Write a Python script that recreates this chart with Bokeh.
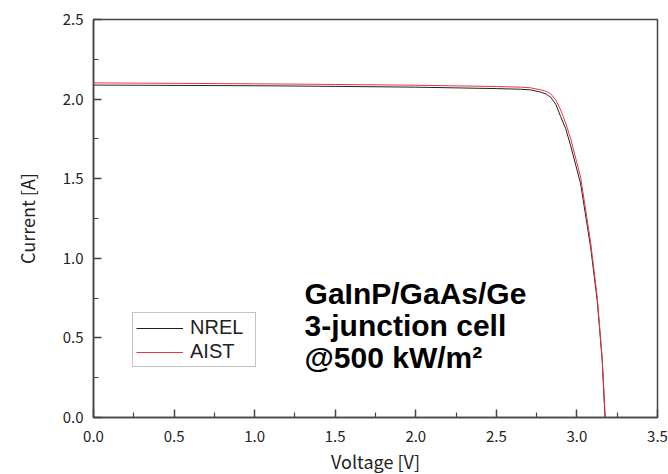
from bokeh.plotting import figure
from bokeh.models import Legend, LegendItem, Label, Range1d, FixedTicker, NumeralTickFormatter
from bokeh.embed import file_html
from bokeh.resources import INLINE

# --- data ---
nrel_v = [0.0, 0.5, 1.0, 1.5, 2.0, 2.5, 2.65, 2.713, 2.775, 2.81, 2.837, 2.87, 2.899, 2.93, 2.961, 3.023, 3.085, 3.126, 3.157, 3.174]
nrel_i = [2.088, 2.086, 2.084, 2.080, 2.075, 2.066, 2.062, 2.058, 2.044, 2.031, 2.012, 1.965, 1.890, 1.815, 1.708, 1.468, 1.070, 0.735, 0.358, 0.0]

aist_v = [0.0, 0.5, 1.0, 1.5, 2.0, 2.5, 2.65, 2.713, 2.775, 2.81, 2.837, 2.87, 2.899, 2.93, 2.961, 3.023, 3.085, 3.126, 3.157, 3.176]
aist_i = [2.102, 2.099, 2.096, 2.092, 2.087, 2.079, 2.075, 2.071, 2.058, 2.049, 2.033, 1.993, 1.932, 1.850, 1.751, 1.509, 1.101, 0.756, 0.37, 0.0]

x_ticks = [0.0, 0.5, 1.0, 1.5, 2.0, 2.5, 3.0, 3.5]
y_ticks = [0.0, 0.5, 1.0, 1.5, 2.0, 2.5]
annotation = ["GaInP/GaAs/Ge", "3-junction cell", "@500 kW/m\u00b2"]

TICK_FONT = "Noto Sans CJK JP"

p = figure(width=668, height=474, output_backend="svg", toolbar_location=None,
           x_range=Range1d(0, 3.5), y_range=Range1d(0, 2.5),
           min_border_left=93, min_border_right=11, min_border_top=19, min_border_bottom=57)
p.frame_width = 564
p.frame_height = 398

p.grid.visible = False
p.outline_line_color = "#444444"
p.outline_line_width = 1.5
p.background_fill_color = "white"
p.border_fill_color = "white"

for ax, ticks in ((p.xaxis[0], x_ticks), (p.yaxis[0], y_ticks)):
    ax.ticker = FixedTicker(ticks=ticks, minor_ticks=[t + 0.25 for t in ticks[:-1]])
    ax.major_tick_in = 8
    ax.major_tick_out = 0
    ax.minor_tick_in = 5
    ax.minor_tick_out = 0
    ax.axis_line_color = "#444444"
    ax.axis_line_width = 1.5
    ax.major_tick_line_color = "#444444"
    ax.minor_tick_line_color = "#444444"
    ax.major_tick_line_width = 1.5
    ax.minor_tick_line_width = 1.2
    ax.major_label_text_font = TICK_FONT
    ax.major_label_text_font_size = "15px"
    ax.major_label_text_color = "#222222"
    ax.axis_label_text_font = TICK_FONT
    ax.axis_label_text_font_size = "18px"
    ax.axis_label_text_font_style = "normal"
    ax.axis_label_text_color = "#222222"
    ax.formatter = NumeralTickFormatter(format="0.0")

p.xaxis.axis_label = "Voltage [V]"
p.yaxis.axis_label = "Current [A]"
p.xaxis.major_label_standoff = 13
p.yaxis.major_label_standoff = 10
p.xaxis.axis_label_standoff = 3
p.yaxis.axis_label_standoff = 20

r_nrel = p.line(nrel_v, nrel_i, line_color="#222222", line_width=1)
r_aist = p.line(aist_v, aist_i, line_color="#ee3344", line_width=1)

legend = Legend(items=[LegendItem(label="NREL", renderers=[r_nrel]),
                       LegendItem(label="AIST", renderers=[r_aist])],
                location=(39, 50), orientation="vertical")
legend.label_text_font = "Liberation Sans"
legend.label_text_font_size = "20px"
legend.label_text_color = "#222222"
legend.glyph_width = 47
legend.glyph_height = 22
legend.label_height = 22
legend.label_width = 62
legend.label_standoff = 7
legend.padding = 3
legend.spacing = 1
legend.margin = 0
legend.border_line_color = "#888888"
legend.border_line_width = 1
legend.background_fill_alpha = 1
p.add_layout(legend, "center")

ys = [0.78, 0.58, 0.38]
for txt, yy in zip(annotation, ys):
    p.add_layout(Label(x=1.31, y=yy, text=txt, text_font="Liberation Sans",
                       text_font_style="bold", text_font_size="30px",
                       text_color="black", text_baseline="alphabetic"))

open("out.html", "w").write(file_html(p, INLINE))
